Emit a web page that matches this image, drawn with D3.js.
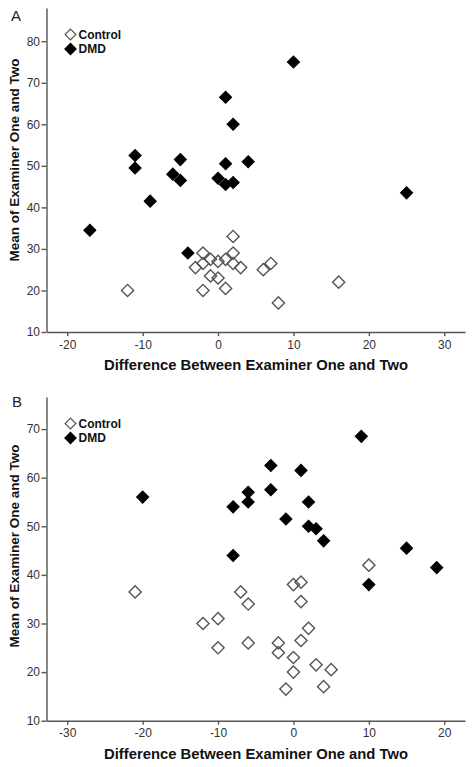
<!DOCTYPE html>
<html><head><meta charset="utf-8">
<script src="https://cdn.jsdelivr.net/npm/d3@7"></script>
<style>body{margin:0;background:#fff}svg{display:block}</style>
</head><body><svg id="c" width="474" height="767"></svg>
<script>
// Panel A data
const aControlX = [-12, 2, -2, 2, -1, 0, 1, 2, 3, -3, -2, -1, 0, -2, 1, 6, 7, 8, 16];
const aControlY = [20, 33, 29, 29, 27.5, 27, 27.5, 26.5, 25.5, 25.5, 26.5, 23.5, 23, 20, 20.5, 25, 26.5, 17, 22];
const aDmdX = [10, 1, 2, -11, -11, -5, -6, -5, 1, 4, 0, 1, 2, -9, 25, -17, -4];
const aDmdY = [75, 66.5, 60, 52.5, 49.5, 51.5, 48, 46.5, 50.5, 51, 47, 45.5, 46, 41.5, 43.5, 34.5, 29];
const aXTicks = [-20, -10, 0, 10, 20, 30];
const aYTicks = [10, 20, 30, 40, 50, 60, 70, 80];
// Panel B data
const bControlX = [10, -21, -7, -6, 0, 1, 1, -12, -10, -10, -6, -2, -2, 2, 1, 0, 0, 3, 5, -1, 4];
const bControlY = [42, 36.5, 36.5, 34, 38, 38.5, 34.5, 30, 31, 25, 26, 26, 24, 29, 26.5, 23, 20, 21.5, 20.5, 16.5, 17];
const bDmdX = [-20, 9, -3, 1, -3, -6, -6, -8, 2, -1, 2, 3, 4, -8, 15, 19, 10];
const bDmdY = [56, 68.5, 62.5, 61.5, 57.5, 57, 55, 54, 55, 51.5, 50, 49.5, 47, 44, 45.5, 41.5, 38];
const bXTicks = [-30, -20, -10, 0, 10, 20];
const bYTicks = [10, 20, 30, 40, 50, 60, 70];
const seriesNames = ["Control", "DMD"];
const xTitle = "Difference Between Examiner One and Two";
const yTitle = "Mean of Examiner One and Two";

const svg = d3.select("#c");
const font = "Liberation Sans, Arial, sans-serif";
const AX = 46.5;

function panel(cfg) {
  const g = svg.append("g");
  const x = d3.scaleLinear().domain(cfg.xDom).range([AX, 465]);
  const y = d3.scaleLinear().domain(cfg.yDom).range([cfg.bottom, cfg.top]);
  const fmt = d => String(d);

  const xa = g.append("g").attr("transform", `translate(0,${cfg.bottom})`)
    .call(d3.axisBottom(x).tickValues(cfg.xTicks).tickFormat(fmt).tickSize(4).tickSizeOuter(0).tickPadding(4));
  const ya = g.append("g").attr("transform", `translate(${AX},0)`)
    .call(d3.axisLeft(y).tickValues(cfg.yTicks).tickFormat(fmt).tickSize(5).tickSizeOuter(0).tickPadding(1.5));
  [xa, ya].forEach(a => {
    a.selectAll("path,line").attr("stroke", "#555").attr("stroke-width", 1.4);
    a.selectAll("text").attr("fill", "#333").style("font-family", font).style("font-size", "12px");
  });

  const sym = d3.symbol().type(d3.symbolSquare).size(74);
  const ctrl = cfg.cx.map((v, i) => [v, cfg.cy[i]]);
  const dmd = cfg.dx.map((v, i) => [v, cfg.dy[i]]);
  g.selectAll(".c").data(ctrl).enter().append("path")
    .attr("d", sym).attr("transform", d => `translate(${x(d[0])},${y(d[1])}) rotate(45)`)
    .attr("fill", "none").attr("stroke", "#555").attr("stroke-width", 1.4);
  g.selectAll(".d").data(dmd).enter().append("path")
    .attr("d", sym).attr("transform", d => `translate(${x(d[0])},${y(d[1])}) rotate(45)`)
    .attr("fill", "#000").attr("stroke", "#000").attr("stroke-width", 1);

  // legend
  const leg = g.append("g");
  seriesNames.forEach((n, i) => {
    const ly = cfg.legY + i * 14.5;
    leg.append("path").attr("d", d3.symbol().type(d3.symbolSquare).size(i ? 66 : 58))
      .attr("transform", `translate(70.5,${ly}) rotate(45)`)
      .attr("fill", i ? "#000" : "none").attr("stroke", i ? "#000" : "#555").attr("stroke-width", i ? 1 : 1.2);
    leg.append("text").attr("x", 78.5).attr("y", ly + 4.3).text(n)
      .style("font-family", font).style("font-size", "12px").style("font-weight", "bold").attr("fill", "#111");
  });

  g.append("text").attr("x", 256).attr("y", cfg.bottom + 38).attr("text-anchor", "middle")
    .text(xTitle).style("font-family", font).style("font-size", "14.8px").style("font-weight", "bold").attr("fill", "#111");
  g.append("text").attr("transform", `translate(19,${cfg.yTitleC}) rotate(-90)`).attr("text-anchor", "middle")
    .text(yTitle).style("font-family", font).style("font-size", "13.5px").style("font-weight", "bold").attr("fill", "#111");
  g.append("text").attr("x", cfg.lblX).attr("y", cfg.lblY).text(cfg.label)
    .style("font-family", font).style("font-size", "15px").attr("fill", "#222");
}

panel({xDom: [-22.75, 32.75], yDom: [10, 88], top: 8, bottom: 332,
  xTicks: aXTicks, yTicks: aYTicks, cx: aControlX, cy: aControlY, dx: aDmdX, dy: aDmdY,
  legY: 34.5, yTitleC: 160, label: "A", lblX: 11, lblY: 20.7});
panel({xDom: [-32.75, 22.75], yDom: [10, 76.6], top: 397, bottom: 720.7,
  xTicks: bXTicks, yTicks: bYTicks, cx: bControlX, cy: bControlY, dx: bDmdX, dy: bDmdY,
  legY: 423.5, yTitleC: 546, label: "B", lblX: 12, lblY: 407});
</script></body></html>
